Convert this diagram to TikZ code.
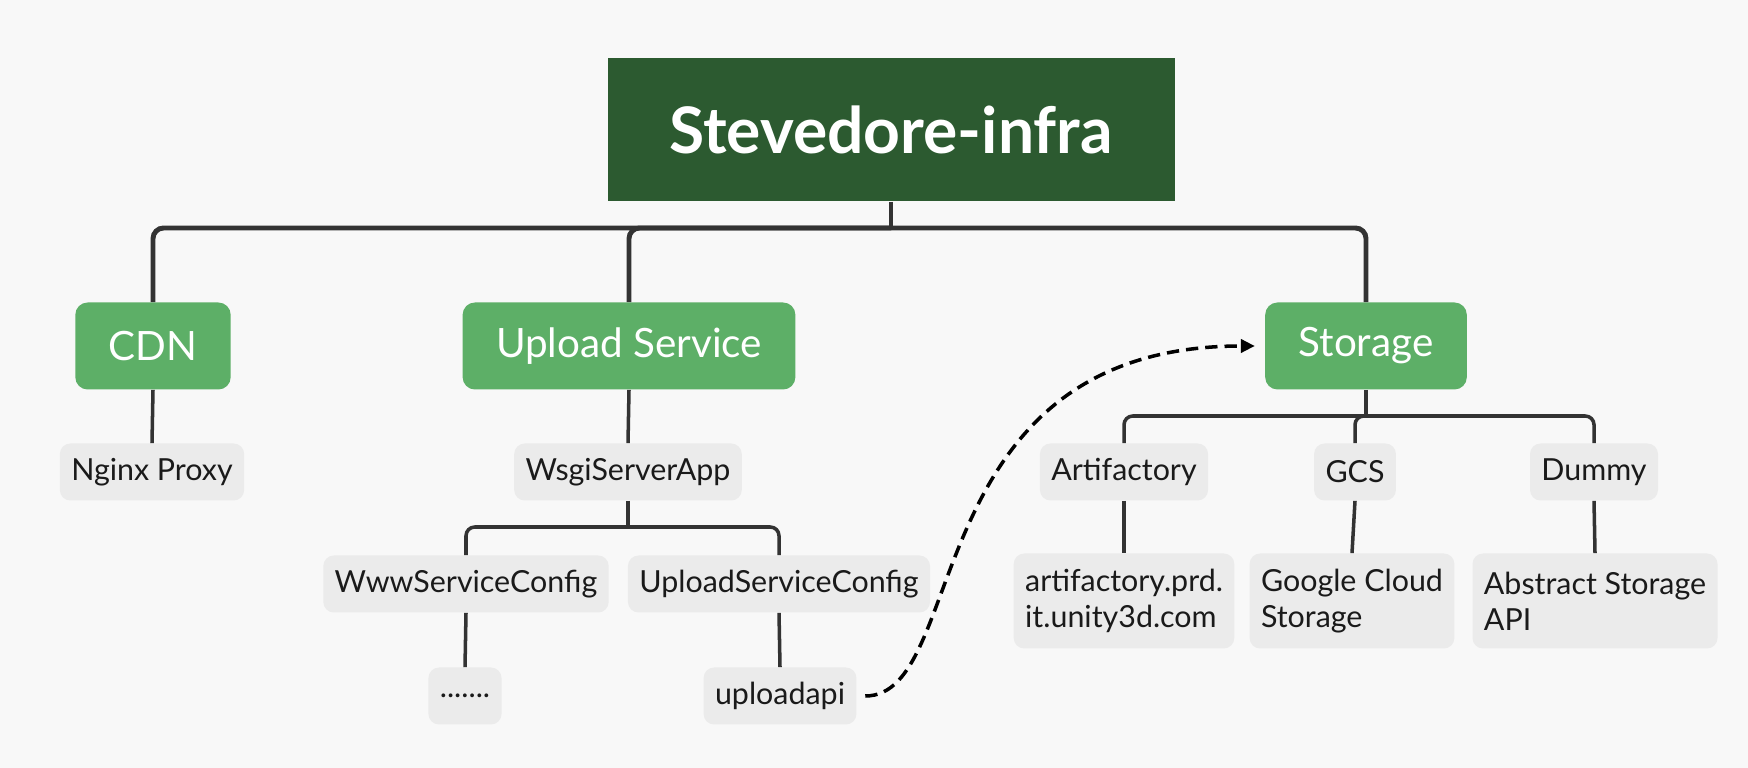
\documentclass[tikz,border=0pt]{standalone}
\usepackage{fontspec}
\setmainfont{Lato}
\usetikzlibrary{arrows.meta, positioning}
\definecolor{pagebg}{RGB}{248,248,248}
\definecolor{rootgreen}{RGB}{44,90,48}
\definecolor{groupgreen}{RGB}{93,175,103}
\definecolor{itemgray}{RGB}{235,235,235}
\definecolor{linegray}{RGB}{51,51,51}
\definecolor{textdark}{RGB}{26,26,26}

\tikzset{
  rootbox/.style={fill=rootgreen, text=white, font=\fontsize{36.5}{42}\selectfont\bfseries, minimum width=11.34cm, minimum height=2.86cm},
  groupbox/.style={fill=groupgreen, text=white, rounded corners=7pt, font=\fontsize{23}{27}\selectfont, inner xsep=19pt, minimum height=1.74cm},
  itembox/.style={fill=itemgray, text=textdark, rounded corners=6pt, font=\fontsize{17.3}{20.5}\selectfont, inner xsep=6.5pt, minimum height=1.14cm, align=left},
  trunk/.style={draw=linegray, line width=2.8pt, rounded corners=6pt},
  branch/.style={draw=linegray, line width=2pt, rounded corners=5pt},
  uselink/.style={draw=black, line width=2pt, dash pattern=on 7pt off 4pt, -{Triangle[length=8pt, width=7.5pt]}, shorten <=0.17cm, shorten >=0.2cm}
}

\begin{document}
\begin{tikzpicture}
  \fill[pagebg] (0,0) rectangle (34.96,15.36);

  % Root
  \node[rootbox] (root) at (17.82, 12.76) {Stevedore-infra};

  % Components
  \node[groupbox] (cdn) at (3.06, 8.44) {CDN};
  \node[groupbox] (upload) at (12.58, 8.44) {Upload Service};
  \node[groupbox] (storage) at (27.32, 8.44) {Storage};

  % CDN branch
  \node[itembox] (nginx) at (3.04, 5.92) {Nginx Proxy};

  % Upload branch
  \node[itembox] (wsgi) at (12.56, 5.92) {WsgiServerApp};
  \node[itembox] (wwwcfg) at (9.32, 3.68) {WwwServiceConfig};
  \node[itembox] (uploadcfg) at (15.58, 3.68) {UploadServiceConfig};
  \node[itembox] (more) at (9.30, 1.44) {.......};
  \node[itembox] (uploadapi) at (15.60, 1.44) {uploadapi};

  % Storage branch
  \node[itembox] (artifactory) at (22.48, 5.92) {Artifactory};
  \node[itembox] (gcs) at (27.10, 5.92) {GCS};
  \node[itembox] (dummy) at (31.88, 5.92) {Dummy};
  \node[itembox, minimum height=1.9cm] (artiurl) at (22.48, 3.34) {artifactory.prd.\\it.unity3d.com};
  \node[itembox, minimum height=1.9cm] (gcsdesc) at (27.04, 3.34) {Google Cloud\\Storage};
  \node[itembox, minimum height=1.9cm] (abstract) at (31.90, 3.34) {Abstract Storage\\API};

  % Tree lines
  \coordinate (topbar) at (17.82, 10.8);
  \draw[trunk] (root.south) -- (topbar);
  \draw[trunk] (topbar) -| (cdn.north);
  \draw[trunk] (topbar) -| (upload.north);
  \draw[trunk] (topbar) -| (storage.north);

  \draw[branch] (cdn.south) -- (nginx.north);
  \draw[branch] (upload.south) -- (wsgi.north);

  \coordinate (wsgibar) at (12.56, 4.82);
  \draw[branch] (wsgi.south) -- (wsgibar);
  \draw[branch] (wsgibar) -| (wwwcfg.north);
  \draw[branch] (wsgibar) -| (uploadcfg.north);
  \draw[branch] (wwwcfg.south) -- (more.north);
  \draw[branch] (uploadcfg.south) -- (uploadapi.north);

  \coordinate (storebar) at (27.32, 7.04);
  \draw[branch] (storage.south) -- (storebar);
  \draw[branch] (storebar) -| (artifactory.north);
  \draw[branch] (storebar) -| (gcs.north);
  \draw[branch] (storebar) -| (dummy.north);
  \draw[branch] (artifactory.south) -- (artiurl.north);
  \draw[branch] (gcs.south) -- (gcsdesc.north);
  \draw[branch] (dummy.south) -- (abstract.north);

  % uploadapi uses storage
  \draw[uselink] (uploadapi.east) .. controls +(2.26,0) and +(-7.0,0) .. (storage.west);
\end{tikzpicture}
\end{document}
